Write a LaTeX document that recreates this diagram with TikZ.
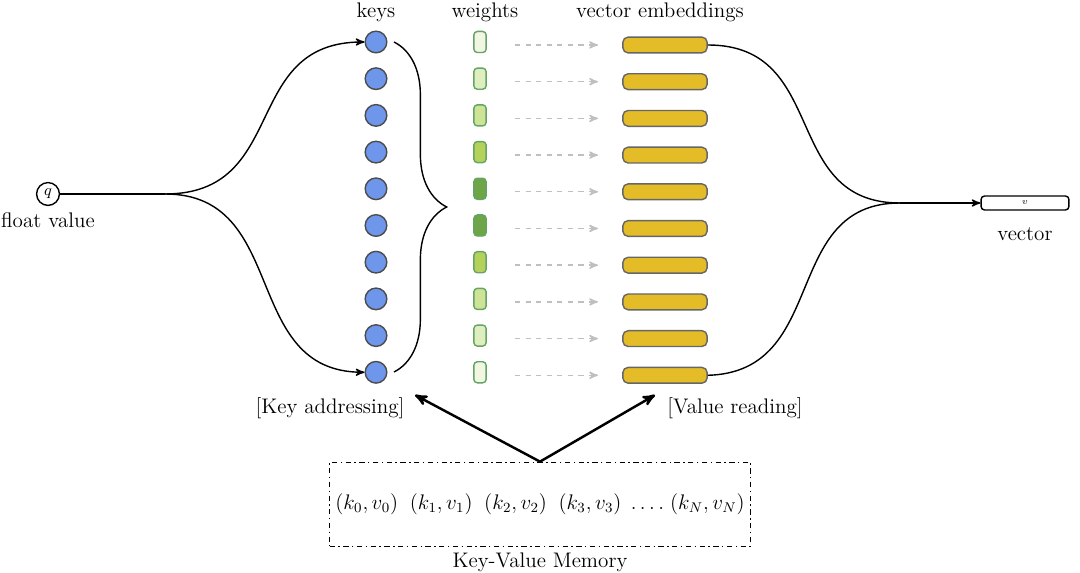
\documentclass[tikz,border=0pt]{standalone}
\usepackage{tikz}
\usetikzlibrary{positioning, arrows, decorations.pathreplacing}

\definecolor{keyblue}{RGB}{110,150,235}
\definecolor{embgold}{RGB}{228,188,40}
\definecolor{w0}{RGB}{240,246,225}
\definecolor{w1}{RGB}{222,238,190}
\definecolor{w2}{RGB}{205,228,150}
\definecolor{w3}{RGB}{180,210,90}
\definecolor{w4}{RGB}{110,165,70}

\begin{document}
\begin{tikzpicture}[x=0.02cm,y=-0.02cm,>=stealth',thick,
    key node/.style={circle,draw=black!70,fill=keyblue,minimum size=22pt*0.56,inner sep=0pt},
    weight node/.style={rounded corners=2pt,draw=green!40!black!60,minimum width=7pt,minimum height=12pt,inner sep=0pt},
    emb node/.style={rounded corners=3pt,draw=black!60,fill=embgold,minimum width=48pt,minimum height=9pt,inner sep=0pt},
    label node/.style={font=\large}]

\useasboundingbox (0,0) rectangle (1080,573);

\node[circle,draw,minimum size=13pt,inner sep=0pt] (q) at (48,194) {\small$q$};
\node[label node,below=0pt of q] (fv) {float value};
\coordinate (split) at (165,194);

\foreach \i/\c in {0/w0,1/w1,2/w2,3/w3,4/w4,5/w4,6/w3,7/w2,8/w1,9/w0} {
  \node[key node] (k\i) at (376,42+36.7*\i) {};
  \node[weight node,fill=\c] (w\i) at (480,42+36.7*\i) {};
  \node[emb node] (e\i) at (665,45+36.7*\i) {};
  \draw[->,dashed,gray!50] (515,45+36.7*\i) -- (598,45+36.7*\i);
}

\node[label node] at (376,12) {keys};
\node[label node] at (485,12) {weights};
\node[label node] at (660,12) {vector embeddings};

% key addressing
\draw (q) -- (split);
\draw[->] (split) .. controls (290,194) and (240,42) .. (k0);
\draw[->] (split) .. controls (290,194) and (240,372) .. (k9);
\draw[decorate,decoration={brace,amplitude=30pt}] (394,42) -- (394,372);

% value reading
\node[rounded corners=2pt,draw,minimum width=50pt,minimum height=8pt,inner sep=0pt,font=\tiny] (vec) at (1025,203) {$v$};
\node[label node,below=6pt of vec] {vector};
\coordinate (merge) at (900,203);
\draw (e0.east) .. controls (830,45) and (780,203) .. (merge);
\draw (e9.east) .. controls (830,372) and (780,203) .. (merge);
\draw[->] (merge) -- (vec);

\node[label node] (ka) at (330,408) {[Key addressing]};
\node[label node] (vr) at (735,408) {[Value reading]};

% memory
\node[draw,dash dot,thin,minimum width=404*0.02cm,minimum height=84*0.02cm,font=\large] (mem) at (540,504)
  {$(k_0,v_0)\;\;(k_1,v_1)\;\;(k_2,v_2)\;\;(k_3,v_3)\;\ldots.\;(k_N,v_N)$};
\node[label node] at (540,562) {Key-Value Memory};
\draw[->,line width=1.4pt] (mem.north) -- (415,395);
\draw[->,line width=1.4pt] (mem.north) -- (655,395);
\end{tikzpicture}
\end{document}
